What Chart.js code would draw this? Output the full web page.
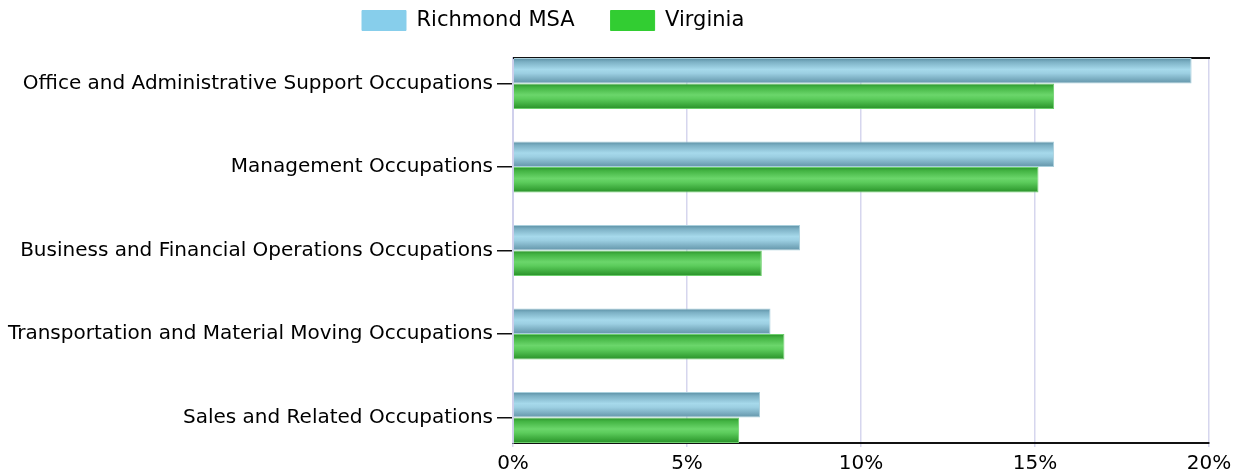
<!DOCTYPE html>
<html>
<head>
<meta charset="utf-8">
<script src="https://cdn.jsdelivr.net/npm/chart.js@4/dist/chart.umd.min.js"></script>
<style>
html,body{margin:0;padding:0;background:#fff;}
#wrap{width:1245px;height:475px;position:relative;}
</style>
</head>
<body>
<div id="wrap"><canvas id="c" width="1245" height="475"></canvas></div>
<script>
const categories = [
  "Office and Administrative Support Occupations",
  "Management Occupations",
  "Business and Financial Operations Occupations",
  "Transportation and Material Moving Occupations",
  "Sales and Related Occupations"
];
const seriesNames = ["Richmond MSA", "Virginia"];
const richmond = [19.5, 15.55, 8.25, 7.4, 7.1];
const virginia = [15.55, 15.1, 7.15, 7.8, 6.5];
const xTicks = [0, 5, 10, 15, 20];
const legendColors = ['#87CEEB', '#32CD32'];

const CAT_PCT = 0.61;
const FONT = "'DejaVu Sans', Verdana, sans-serif";
const LEG_PAD = 36;

function gradFor(stops, solid) {
  return function(ctx) {
    const chart = ctx.chart;
    const ys = chart.scales && chart.scales.y;
    if (!ys || ctx.dataIndex === undefined || ctx.type !== 'data') return solid;
    const center = ys.getPixelForValue(ctx.dataIndex);
    const spacing = Math.abs(ys.getPixelForValue(1) - ys.getPixelForValue(0));
    if (!isFinite(center) || !isFinite(spacing) || spacing <= 0) return solid;
    const size = spacing * CAT_PCT / 2;
    const top = center - size + ctx.datasetIndex * size;
    const g = chart.ctx.createLinearGradient(0, top, 0, top + size);
    stops.forEach(s => g.addColorStop(s[0], s[1]));
    return g;
  };
}
const blueStops = [[0, '#5a8ea3'], [0.15, '#7cb0c4'], [0.45, '#a6d9eb'], [0.6, '#9ccfe2'], [0.9, '#70a2b6'], [1, '#6697ac']];
const greenStops = [[0, '#2b902b'], [0.15, '#43b443'], [0.45, '#6bd66b'], [0.6, '#5ccc5c'], [0.9, '#34a034'], [1, '#2a8d2a']];

const toPts = arr => arr.map((v, i) => ({x: v, y: i}));

const framePlugin = {
  id: 'frame',
  beforeDatasetsDraw(chart) {
    const {ctx, chartArea} = chart;
    ctx.save();
    ctx.strokeStyle = '#111';
    ctx.lineWidth = 2;
    ctx.beginPath();
    ctx.moveTo(chartArea.left, chartArea.top);
    ctx.lineTo(chartArea.right + 1, chartArea.top);
    ctx.stroke();
    ctx.restore();
  }
};
const legendPlace = {
  id: 'legendPlace',
  beforeLayout(chart) {
    const lg = chart.legend;
    if (lg && !lg._fitPatched) {
      const f = lg.fit;
      lg.fit = function() { f.call(this); this.height = 58; };
      lg._fitPatched = true;
    }
  },
  afterLayout(chart) {
    const lg = chart.legend;
    if (!lg || !lg.lineWidths) return;
    const x0 = (lg.left + LEG_PAD + lg.right - lg.lineWidths[0]) / 2;
    const dx = 362 - x0;
    lg.left += dx; lg.right += dx;
    lg.top = 10 - LEG_PAD;
  }
};

new Chart(document.getElementById('c'), {
  type: 'bar',
  data: {
    datasets: [
      {
        label: seriesNames[0],
        data: toPts(richmond),
        backgroundColor: gradFor(blueStops, legendColors[0]),
        borderColor: '#a9cfdc',
        borderWidth: 1,
        categoryPercentage: CAT_PCT,
        barPercentage: 1.0
      },
      {
        label: seriesNames[1],
        data: toPts(virginia),
        backgroundColor: gradFor(greenStops, legendColors[1]),
        borderColor: '#6ccf6c',
        borderWidth: 1,
        categoryPercentage: CAT_PCT,
        barPercentage: 1.0
      }
    ]
  },
  options: {
    indexAxis: 'y',
    responsive: false,
    animation: false,
    layout: {padding: {top: 0, right: 36, left: 0, bottom: 0}},
    plugins: {
      tooltip: {enabled: false},
      legend: {
        position: 'top',
        labels: {
          boxWidth: 44,
          boxHeight: 20,
          padding: LEG_PAD,
          color: '#000',
          font: {family: FONT, size: 21},
          generateLabels(chart) {
            return chart.data.datasets.map((ds, i) => ({
              text: ds.label,
              fillStyle: legendColors[i],
              strokeStyle: legendColors[i],
              lineWidth: 1,
              hidden: false,
              datasetIndex: i,
              fontColor: '#000'
            }));
          }
        }
      }
    },
    scales: {
      x: {
        type: 'linear',
        position: 'bottom',
        min: 0,
        max: 20,
        afterBuildTicks(scale) { scale.ticks = xTicks.map(v => ({value: v})); },
        afterFit(scale) { scale.height = 32; },
        ticks: {
          callback: v => v + '%',
          color: '#000',
          font: {family: FONT, size: 20},
          padding: 5,
          maxRotation: 0
        },
        grid: {color: '#d6d6ee', lineWidth: 1.5, tickLength: 4},
        border: {color: '#111', width: 2}
      },
      y: {
        type: 'linear',
        reverse: true,
        offset: false,
        min: -0.305,
        max: 4.305,
        afterBuildTicks(scale) { scale.ticks = categories.map((c, i) => ({value: i})); },
        afterFit(scale) { scale.width = 513; },
        ticks: {
          callback: v => categories[v],
          color: '#000',
          font: {family: FONT, size: 20},
          padding: 4
        },
        grid: {offset: false, drawOnChartArea: false, color: '#111', tickLength: 16, lineWidth: 1.5},
        border: {color: '#d0d0ec', width: 2}
      }
    }
  },
  plugins: [framePlugin, legendPlace]
});
</script>
</body>
</html>
